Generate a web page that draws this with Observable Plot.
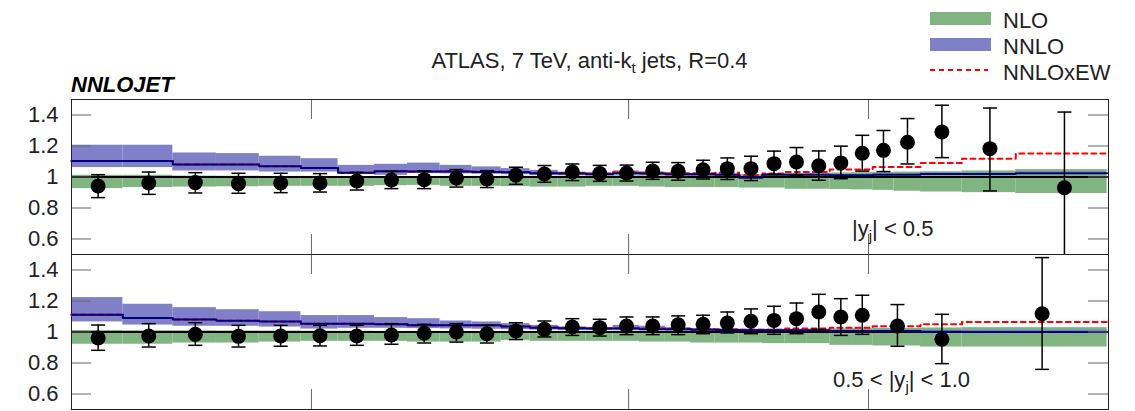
<!DOCTYPE html>
<html>
<head>
<meta charset="utf-8">
<script src="https://cdn.jsdelivr.net/npm/d3@7"></script>
<script src="https://cdn.jsdelivr.net/npm/@observablehq/plot@0.6"></script>
<style>
  html, body { margin: 0; padding: 0; background: #fff; overflow: hidden; }
  #chart { position: relative; width: 1135px; height: 411px; }
  #chart svg { position: absolute; left: 0; }
</style>
</head>
<body>
<div id="chart"></div>
<script>
// ---- pT bin edges [GeV] ----
const edgesCentral = [100,116,134,152,172,194,216,240,264,290,318,346,376,408,442,478,516,556,598,642,688,736,786,838,894,952,1012,1076,1162,1310,1530,1992];
const edgesForward = [100,116,134,152,172,194,216,240,264,290,318,346,376,408,442,478,516,556,598,642,688,736,786,838,894,952,1012,1162,1310,1992];

// ---- |y| < 0.5 : data / NLO ----
const dataCentral   = [0.942,0.961,0.964,0.957,0.961,0.961,0.974,0.981,0.983,0.994,0.987,1.011,1.019,1.032,1.022,1.026,1.039,1.037,1.047,1.054,1.054,1.086,1.097,1.073,1.091,1.153,1.172,1.224,1.29,1.183,0.931];
const dataCentralLo = [0.867,0.888,0.897,0.895,0.899,0.903,0.916,0.925,0.925,0.935,0.932,0.953,0.966,0.977,0.972,0.974,0.985,0.979,0.987,0.984,0.977,1.018,1.011,0.979,0.989,1.038,1.035,1.084,1.125,0.91,0.443];
const dataCentralHi = [1.015,1.032,1.028,1.024,1.024,1.022,1.03,1.036,1.04,1.048,1.041,1.063,1.074,1.084,1.075,1.077,1.095,1.093,1.108,1.123,1.134,1.167,1.19,1.168,1.199,1.269,1.30,1.377,1.463,1.445,1.419];
const nloCentralLo  = [0.925,0.932,0.935,0.937,0.94,0.94,0.94,0.944,0.946,0.94,0.94,0.938,0.935,0.935,0.94,0.94,0.935,0.932,0.932,0.932,0.929,0.929,0.921,0.921,0.919,0.917,0.914,0.908,0.903,0.899,0.893];
const nloCentralHi  = [1.011,1.011,1.006,1.005,1.004,1.004,1.003,1.003,1.003,1.004,1.004,1.005,1.005,1.006,1.006,1.008,1.008,1.01,1.01,1.012,1.015,1.017,1.02,1.022,1.026,1.028,1.03,1.032,1.034,1.039,1.048];
const nnloCentralLo = [1.061,1.061,1.039,1.039,1.032,1.032,1.017,1.011,1.022,1.02,1.018,1.015,1.01,1.01,1.008,1.012,1.01,1.006,1.005,1.004,0.99,1.008,1.008,1.008,1.005,1.005,1.008,1.008,1.012,1.012,1.015];
const nnloCentral   = [1.103,1.103,1.08,1.08,1.069,1.058,1.028,1.037,1.035,1.035,1.033,1.03,1.025,1.022,1.018,1.025,1.022,1.018,1.017,1.014,0.995,1.015,1.015,1.015,1.011,1.011,1.015,1.015,1.02,1.02,1.025];
const nnloCentralHi = [1.205,1.205,1.155,1.151,1.134,1.118,1.075,1.082,1.09,1.075,1.065,1.054,1.043,1.032,1.026,1.039,1.032,1.022,1.022,1.02,1.004,1.02,1.02,1.02,1.017,1.017,1.02,1.02,1.026,1.026,1.033];
const ewCentral     = [1.103,1.103,1.08,1.08,1.069,1.058,1.028,1.037,1.036,1.037,1.035,1.033,1.028,1.026,1.023,1.03,1.028,1.025,1.025,1.028,1.011,1.022,1.032,1.032,1.048,1.048,1.065,1.065,1.09,1.118,1.151];

// ---- 0.5 < |y| < 1.0 : data / NLO ----
const dataForward   = [0.961,0.974,0.985,0.972,0.974,0.976,0.974,0.981,0.992,1.0,0.989,1.006,1.017,1.032,1.028,1.039,1.039,1.047,1.05,1.058,1.069,1.075,1.086,1.129,1.097,1.108,1.039,0.953,1.118];
const dataForwardLo = [0.882,0.903,0.914,0.903,0.908,0.91,0.914,0.921,0.929,0.935,0.929,0.951,0.968,0.978,0.974,0.983,0.983,0.983,0.989,0.994,0.989,0.985,0.989,1.017,0.978,0.985,0.908,0.796,0.759];
const dataForwardHi = [1.045,1.054,1.06,1.043,1.043,1.043,1.043,1.054,1.05,1.054,1.043,1.06,1.071,1.086,1.082,1.097,1.097,1.104,1.108,1.129,1.149,1.166,1.187,1.243,1.215,1.237,1.177,1.114,1.48];
const nloForwardLo  = [0.921,0.921,0.929,0.929,0.935,0.94,0.94,0.94,0.935,0.935,0.935,0.946,0.94,0.94,0.94,0.94,0.935,0.935,0.929,0.929,0.929,0.925,0.925,0.925,0.914,0.914,0.91,0.903,0.903];
const nloForwardHi  = [1.01,1.008,1.008,1.007,1.006,1.005,1.005,1.004,1.004,1.004,1.004,1.004,1.004,1.005,1.005,1.006,1.006,1.008,1.008,1.01,1.012,1.014,1.016,1.018,1.02,1.022,1.024,1.026,1.028];
const nnloForwardLo = [1.065,1.045,1.037,1.037,1.032,1.019,1.024,1.024,1.022,1.02,1.018,1.015,1.012,1.01,1.01,1.012,1.01,1.008,1.006,1.005,1.004,1.004,1.004,1.004,1.0,1.0,1.0,0.995,0.99];
const nnloForward   = [1.112,1.09,1.08,1.073,1.067,1.054,1.054,1.05,1.043,1.043,1.043,1.035,1.028,1.025,1.022,1.022,1.018,1.017,1.015,1.013,1.011,1.011,1.011,1.011,1.006,1.006,1.006,1.002,1.0];
const nnloForwardHi = [1.222,1.179,1.157,1.144,1.131,1.106,1.106,1.093,1.086,1.071,1.065,1.054,1.043,1.032,1.028,1.043,1.037,1.028,1.022,1.02,1.018,1.018,1.016,1.016,1.012,1.012,1.012,1.01,1.012];
const ewForward     = [1.112,1.09,1.08,1.073,1.067,1.054,1.054,1.05,1.044,1.044,1.044,1.037,1.03,1.027,1.025,1.025,1.022,1.021,1.02,1.018,1.015,1.015,1.022,1.022,1.028,1.028,1.037,1.05,1.065];

// ---- axes / labels ----
const yTicks = [0.6, 0.8, 1, 1.2, 1.4];
const xTicks = [200, 500, 1000];
const xDomain = [100, 2000];
const yDomain = [0.5, 1.5];
const legendLabels = ["NLO", "NNLO", "NNLOxEW"];

const FONT = "'Liberation Sans', Arial, Helvetica, sans-serif";
const GREEN = "#80b480", BLUE = "#8080c8", NAVY = "#000080", EWRED = "#ff0000", TICK = "#666";
const W = 1135, ML = 71, MR = 27;

// horizontal error-bar cap
const cap = { draw(ctx) { ctx.moveTo(-7, 0); ctx.lineTo(7, 0); } };

function panel(s, layout) {
  const {height, marginTop, marginBottom} = layout;
  const n = s.edges.length - 1;
  const rows = d3.range(n).map(i => ({
    x0: s.edges[i], x1: s.edges[i + 1], xc: (s.edges[i] + s.edges[i + 1]) / 2,
    v: s.data[i], lo: s.lo[i], hi: s.hi[i],
    nloLo: s.nloLo[i], nloHi: s.nloHi[i],
    nnloLo: s.nnloLo[i], nnloHi: s.nnloHi[i]
  }));
  const step = vals => [...rows.map((r, i) => ({x: r.x0, y: vals[i]})), {x: s.edges[n], y: vals[n - 1]}];
  const frameW = W - ML - MR;
  const frameH = height - marginTop - marginBottom;
  return Plot.plot({
    width: W, height, marginLeft: ML, marginRight: MR, marginTop, marginBottom,
    style: {background: "transparent", fontFamily: FONT, overflow: "visible"},
    x: {type: "log", domain: xDomain, axis: null},
    y: {domain: yDomain},
    marks: [
      Plot.rect(rows, {x1: "x0", x2: "x1", y1: "nloLo", y2: "nloHi", fill: GREEN}),
      Plot.rect(rows, {x1: "x0", x2: "x1", y1: "nnloLo", y2: "nnloHi", fill: BLUE}),
      Plot.ruleY([1], {stroke: "black", strokeWidth: 2}),
      Plot.line(step(s.ew), {x: "x", y: "y", curve: "step-after", stroke: EWRED, strokeWidth: 2, strokeDasharray: "5,4"}),
      Plot.line(step(s.nnlo), {x: "x", y: "y", curve: "step-after", stroke: NAVY, strokeWidth: 2}),
      Plot.ruleX(rows, {x: "xc", y1: "lo", y2: "hi", stroke: "black", strokeWidth: 1.5, clip: true}),
      Plot.dot(rows, {x: "xc", y: "lo", symbol: cap, fill: "none", stroke: "black", strokeWidth: 1.5, clip: true}),
      Plot.dot(rows, {x: "xc", y: "hi", symbol: cap, fill: "none", stroke: "black", strokeWidth: 1.5, clip: true}),
      Plot.dot(rows, {x: "xc", y: "v", r: 7.5, fill: "black"}),
      Plot.tickY(yTicks, {y: d => d, insetRight: frameW - 20, stroke: TICK}),
      Plot.tickY(yTicks, {y: d => d, insetLeft: frameW - 20, stroke: TICK}),
      Plot.tickX(xTicks, {x: d => d, insetBottom: frameH - 20, stroke: TICK}),
      Plot.tickX(xTicks, {x: d => d, insetTop: frameH - 20, stroke: TICK}),
      Plot.axisY({ticks: yTicks, tickSize: 0, tickPadding: 13, fontSize: 22, tickFormat: d => String(d), color: "#222"}),
      Plot.frame({stroke: "#222"})
    ]
  });
}

const chart = document.getElementById("chart");

const panelCentral = panel({
  edges: edgesCentral, data: dataCentral, lo: dataCentralLo, hi: dataCentralHi,
  nloLo: nloCentralLo, nloHi: nloCentralHi,
  nnloLo: nnloCentralLo, nnlo: nnloCentral, nnloHi: nnloCentralHi, ew: ewCentral
}, {height: 256, marginTop: 99, marginBottom: 2});
panelCentral.style.top = "0px";
chart.appendChild(panelCentral);

const panelForward = panel({
  edges: edgesForward, data: dataForward, lo: dataForwardLo, hi: dataForwardHi,
  nloLo: nloForwardLo, nloHi: nloForwardHi,
  nnloLo: nnloForwardLo, nnlo: nnloForward, nnloHi: nnloForwardHi, ew: ewForward
}, {height: 158, marginTop: 1, marginBottom: 2});
panelForward.style.top = "253px";
chart.appendChild(panelForward);

// header, legend and region labels
const ov = d3.create("svg")
  .attr("width", W).attr("height", 411)
  .style("top", "0px").style("pointer-events", "none")
  .attr("font-family", FONT).attr("font-size", 22).attr("fill", "#222")
  .style("white-space", "pre");

const title = ov.append("text").attr("x", (ML + W - MR) / 2).attr("y", 68).attr("text-anchor", "middle");
title.append("tspan").text("ATLAS, 7 TeV, anti-k");
title.append("tspan").attr("font-size", 15).attr("dy", 5).text("t");
title.append("tspan").attr("dy", -5).text(" jets, R=0.4");

ov.append("text").attr("x", ML).attr("y", 92)
  .attr("font-weight", "bold").attr("font-style", "italic").attr("fill", "#000").text("NNLOJET");

// legend
const lg = ov.append("g");
lg.append("rect").attr("x", 930).attr("y", 12).attr("width", 61).attr("height", 13).attr("fill", GREEN);
lg.append("rect").attr("x", 930).attr("y", 38).attr("width", 61).attr("height", 13).attr("fill", BLUE);
lg.append("line").attr("x1", 930).attr("x2", 988).attr("y1", 70).attr("y2", 70)
  .attr("stroke", EWRED).attr("stroke-width", 2).attr("stroke-dasharray", "5,4");
legendLabels.forEach((l, i) => {
  lg.append("text").attr("x", 1003).attr("y", 27.5 + i * 26).text(l);
});

// rapidity region labels
function yLabel(x, y, pre, post) {
  const t = ov.append("text").attr("x", x).attr("y", y);
  t.append("tspan").text(pre + "|y");
  t.append("tspan").attr("font-size", 15).attr("dy", 5).text("j");
  t.append("tspan").attr("dy", -5).text("| " + post);
}
yLabel(852, 236, "", "< 0.5");
yLabel(833, 387, "0.5 < ", "< 1.0");

chart.appendChild(ov.node());
</script>
</body>
</html>
